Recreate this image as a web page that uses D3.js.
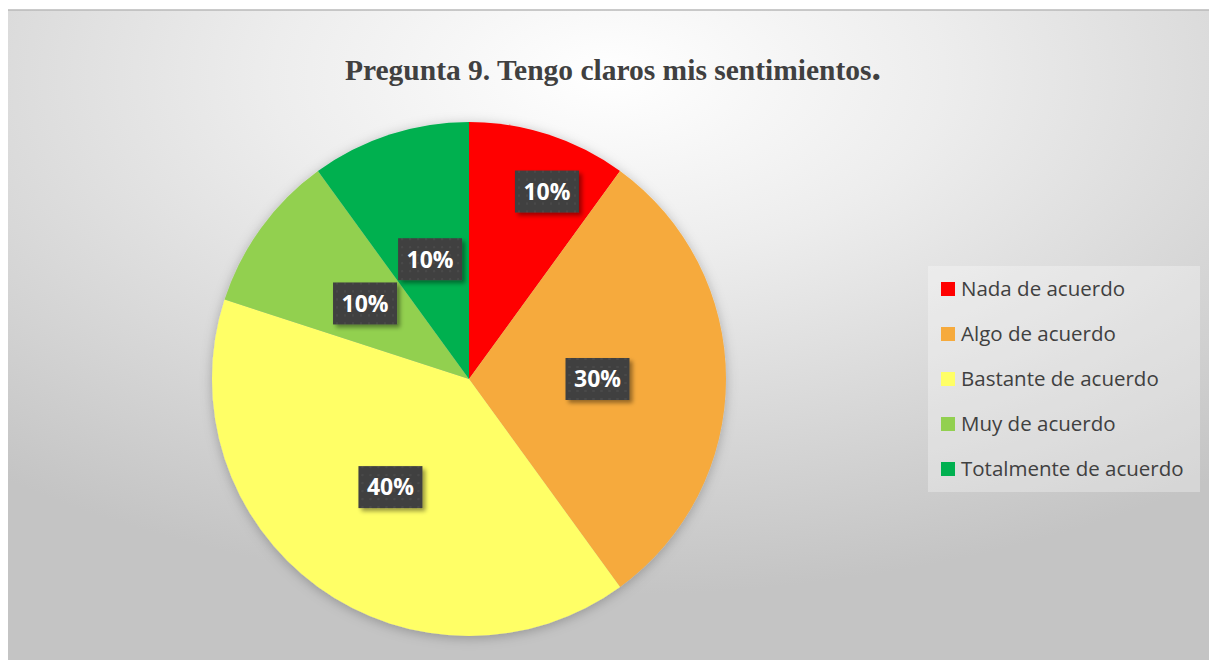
<!DOCTYPE html>
<html>
<head>
<meta charset="utf-8">
<script src="https://cdn.jsdelivr.net/npm/d3@7"></script>
<style>
  body { margin: 0; background: #fff; }
</style>
</head>
<body>
<script>

var categories = ["Nada de acuerdo", "Algo de acuerdo", "Bastante de acuerdo", "Muy de acuerdo", "Totalmente de acuerdo"];
var values = [10, 30, 40, 10, 10];
var colors = ["#ff0000", "#f6aa3c", "#ffff66", "#92d050", "#00b050"];
var title = "Pregunta 9. Tengo claros mis sentimientos";

var W = 1209, H = 660;
var cx = 469, cy = 379, radius = 257;

var svg = d3.select("body").append("svg")
    .attr("width", W)
    .attr("height", H);

var defs = svg.append("defs");

var bg = defs.append("radialGradient")
    .attr("id", "bg")
    .attr("cx", "0.5").attr("cy", "0.1")
    .attr("r", "0.8");
bg.append("stop").attr("offset", "0").attr("stop-color", "#ffffff");
bg.append("stop").attr("offset", "0.35").attr("stop-color", "#ededed");
bg.append("stop").attr("offset", "1").attr("stop-color", "#c4c4c4");

var shadow = defs.append("filter").attr("id", "shadow")
    .attr("x", "-20%").attr("y", "-20%").attr("width", "140%").attr("height", "140%");
shadow.append("feDropShadow")
    .attr("dx", 0).attr("dy", 2).attr("stdDeviation", 6)
    .attr("flood-color", "#000").attr("flood-opacity", 0.25);

var boxShadow = defs.append("filter").attr("id", "boxshadow")
    .attr("x", "-30%").attr("y", "-30%").attr("width", "160%").attr("height", "160%");
boxShadow.append("feDropShadow")
    .attr("dx", 3).attr("dy", 3).attr("stdDeviation", 2)
    .attr("flood-color", "#000").attr("flood-opacity", 0.4);

var pat = defs.append("pattern").attr("id", "dots")
    .attr("width", 8).attr("height", 8).attr("patternUnits", "userSpaceOnUse");
pat.append("rect").attr("width", 8).attr("height", 8).attr("fill", "#3f3f3f");
pat.append("circle").attr("cx", 4).attr("cy", 4).attr("r", 1.3).attr("fill", "#4a4a4a");

// chart area
svg.append("rect")
    .attr("x", 8).attr("y", 10)
    .attr("width", W - 8).attr("height", H - 10)
    .attr("fill", "url(#bg)");
svg.append("line")
    .attr("x1", 8).attr("x2", W).attr("y1", 10).attr("y2", 10)
    .attr("stroke", "#b8b8b8").attr("stroke-width", 1.5);

// title
var t = svg.append("text")
    .attr("x", 613).attr("y", 80)
    .attr("text-anchor", "middle")
    .style("font-family", "'Liberation Serif', 'Times New Roman', serif")
    .style("font-weight", "bold")
    .style("font-size", "29.5px")
    .attr("fill", "#404040");
t.append("tspan").text(title);
t.append("tspan").style("font-size", "38px").text(".");

// pie
var pie = d3.pie().sort(null).value(function(d) { return d; });
var arcs = pie(values);
var arc = d3.arc().innerRadius(0).outerRadius(radius);

var g = svg.append("g")
    .attr("transform", "translate(" + cx + "," + cy + ")");

g.append("g").attr("filter", "url(#shadow)")
  .selectAll("path")
  .data(arcs)
  .enter().append("path")
    .attr("d", arc)
    .attr("fill", function(d, i) { return colors[i]; });

// labels (Excel best fit: first small slice pushed outward)
var labelRatio = [0.79, 0.5, 0.52, 0.5, 0.49];
var labelShift = [0.08, 0, 0, 0, 0];
var lab = g.selectAll("g.lab")
    .data(arcs)
    .enter().append("g")
    .attr("class", "lab")
    .attr("transform", function(d, i) {
        var a = (d.startAngle + d.endAngle) / 2 + labelShift[i];
        var r = radius * labelRatio[i];
        return "translate(" + (Math.sin(a) * r) + "," + (-Math.cos(a) * r) + ")";
    });

lab.append("rect")
    .attr("x", -32).attr("y", -21)
    .attr("width", 64).attr("height", 42)
    .attr("fill", "url(#dots)")
    .attr("filter", "url(#boxshadow)");

lab.append("text")
    .attr("text-anchor", "middle")
    .attr("dy", "0.36em")
    .attr("fill", "#ffffff")
    .style("font-family", "'Open Sans', 'Liberation Sans', sans-serif")
    .style("font-weight", "bold")
    .style("font-size", "23px")
    .text(function(d, i) { return Math.round(values[i] / d3.sum(values) * 100) + "%"; });

// legend
var legend = svg.append("g").attr("transform", "translate(928,266)");
legend.append("rect")
    .attr("width", 272).attr("height", 226)
    .attr("fill", "#ffffff").attr("fill-opacity", 0.3);

var item = legend.selectAll("g.item")
    .data(categories)
    .enter().append("g")
    .attr("class", "item")
    .attr("transform", function(d, i) { return "translate(13," + (23 + i * 45) + ")"; });

item.append("rect")
    .attr("x", 0).attr("y", -7)
    .attr("width", 14).attr("height", 14)
    .attr("fill", function(d, i) { return colors[i]; });

item.append("text")
    .attr("x", 20).attr("dy", "0.35em")
    .attr("fill", "#404040")
    .style("font-family", "'Open Sans', 'Liberation Sans', sans-serif")
    .style("font-size", "20.5px")
    .text(function(d) { return d; });

</script>
</body>
</html>
